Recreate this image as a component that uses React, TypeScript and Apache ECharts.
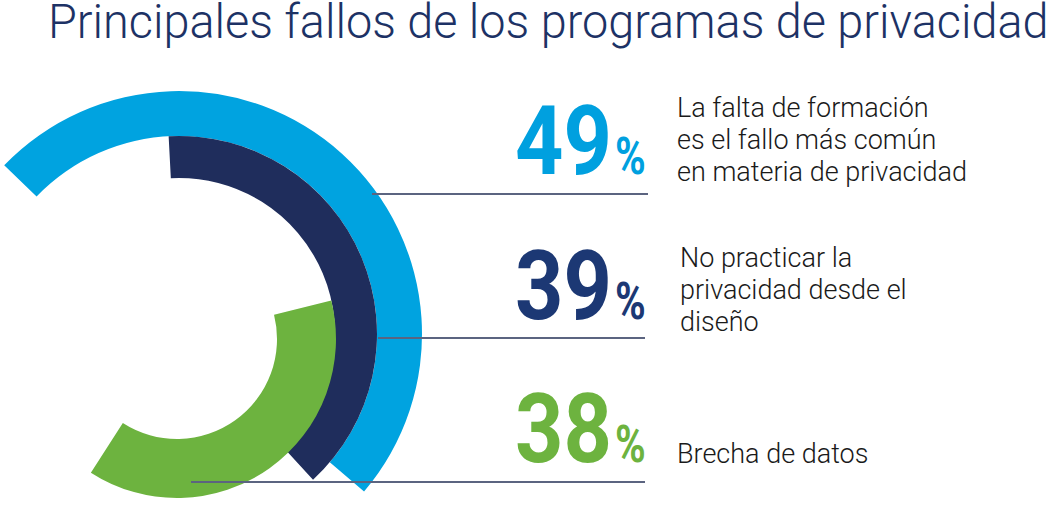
import React, { useEffect, useRef } from "react";
import * as echarts from "echarts";

const title = "Principales fallos de los programas de privacidad";
const values = [49, 39, 38];
const FULL = 100;
const arcColors = ["#00a3e0", "#1f2d5c", "#6db33f"];
const numberColors = ["#00a0df", "#1c3874", "#6db33f"];
const descriptions = [
  "La falta de formación\nes el fallo más común\nen materia de privacidad",
  "No practicar la\nprivacidad desde el\ndiseño",
  "Brecha de datos",
];

export default function App() {
  const ref = useRef<HTMLDivElement>(null);
  useEffect(() => {
    if (!ref.current) return;
    const chart = echarts.init(ref.current, null, { renderer: "svg" });
    const centers = [
      [179, 334],
      [179, 334],
      [177, 339],
    ];
    const radii = [
      [198, 243],
      [156, 198],
      [100, 159],
    ];
    const starts = [136, 93, 14];
    const series = values.map((v, i) => ({
      type: "pie",
      center: centers[i],
      radius: radii[i],
      startAngle: starts[i],
      clockwise: true,
      silent: true,
      z: 2,
      label: { show: false },
      labelLine: { show: false },
      itemStyle: { borderWidth: 0 },
      emphasis: { disabled: true },
      data: [
        { value: v, name: "v" + i, itemStyle: { color: arcColors[i] } },
        { value: FULL - v, name: "r" + i, itemStyle: { color: "rgba(0,0,0,0)" } },
      ],
    }));

    const numY = [141, 286, 429];
    const numX = 515;
    const descX = [677, 680, 677];
    const descY = [92, 242, 438];
    const lineY = [194, 338, 482];
    const lineX1 = [372, 378, 191];
    const lineX2 = [648, 645, 645];

    const graphic: any[] = [
      {
        type: "text",
        x: 48,
        y: 22,
        scaleX: 0.975,
        z: 10,
        style: {
          text: title,
          fontFamily: "Roboto",
          fontWeight: 300,
          fontSize: 48,
          lineHeight: 40,
          fill: "#1d3265",
          align: "left",
          textAlign: "left",
          verticalAlign: "middle",
          textVerticalAlign: "middle",
        },
      },
    ];
    values.forEach((v, i) => {
      graphic.push({
        type: "text",
        x: numX,
        y: numY[i],
        scaleX: 0.88,
        z: 10,
        style: {
          text: String(v),
          fontFamily: "Roboto",
          fontWeight: "bold",
          fontSize: 96,
          fill: numberColors[i],
          align: "left",
          textAlign: "left",
          verticalAlign: "middle",
          textVerticalAlign: "middle",
        },
      });
      graphic.push({
        type: "text",
        x: 615,
        y: numY[i] + 15,
        scaleX: 0.8,
        z: 10,
        style: {
          text: "%",
          fontFamily: "Roboto",
          fontWeight: "bold",
          fontSize: 52,
          fill: numberColors[i],
          align: "left",
          textAlign: "left",
          verticalAlign: "middle",
          textVerticalAlign: "middle",
        },
      });
      graphic.push({
        type: "text",
        x: descX[i],
        y: descY[i],
        z: 10,
        style: {
          text: descriptions[i],
          fontFamily: "Roboto",
          fontWeight: 300,
          fontSize: 27,
          lineHeight: 32,
          fill: "#1a1a1a",
          align: "left",
          textAlign: "left",
          verticalAlign: "top",
          textVerticalAlign: "top",
        },
      });
      graphic.push({
        type: "line",
        z: 20,
        shape: { x1: lineX1[i], y1: lineY[i], x2: lineX2[i], y2: lineY[i] },
        style: { stroke: "#5b6480", lineWidth: 2 },
      });
    });

    chart.setOption({
      animation: false,
      backgroundColor: "#ffffff",
      series,
      graphic,
    });
    return () => chart.dispose();
  }, []);
  return (
    <div
      ref={ref}
      style={{ position: "fixed", left: 0, top: 0, width: 1056, height: 518 }}
    />
  );
}
